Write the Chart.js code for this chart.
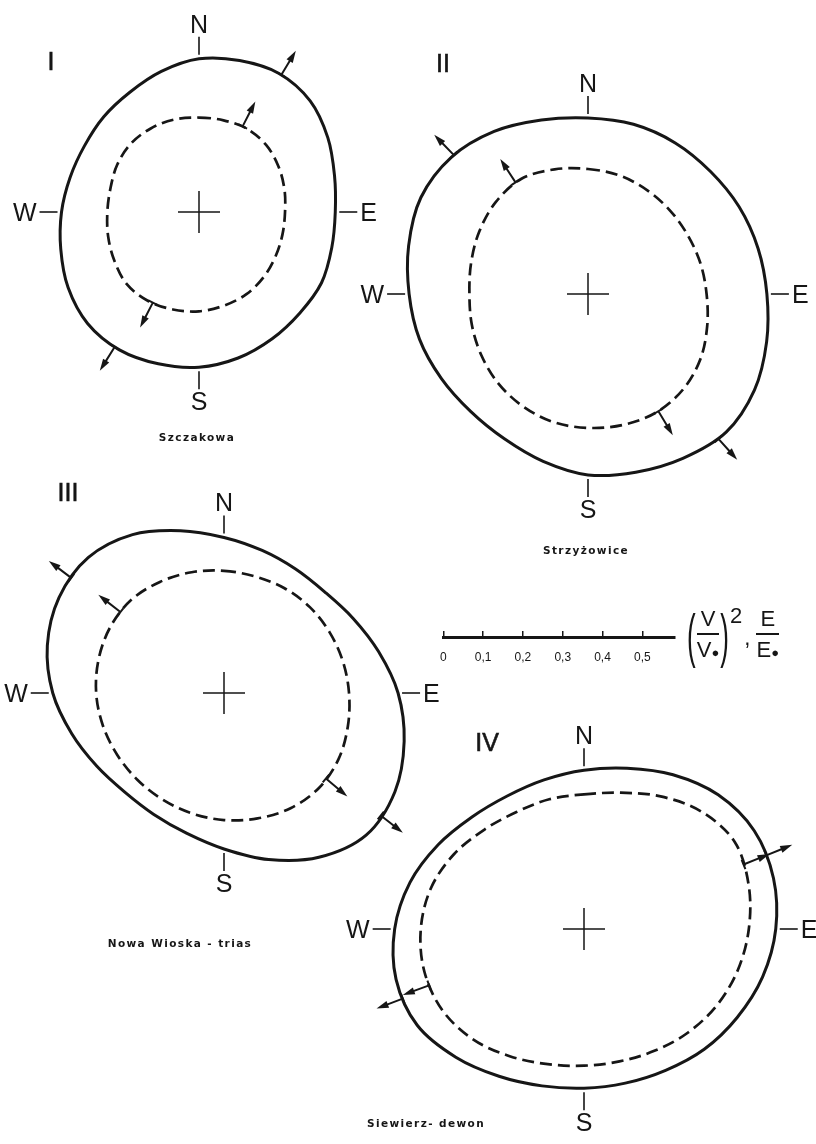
<!DOCTYPE html>
<html>
<head>
<meta charset="utf-8">
<script src="https://cdn.jsdelivr.net/npm/chart.js@4.4.1/dist/chart.umd.min.js"></script>
<style>
  html, body { margin: 0; padding: 0; background: #fff; }
  #page { position: relative; width: 816px; height: 1144px; overflow: hidden; background: #fff; color: #161616; font-family: 'Liberation Sans', sans-serif; }
  .rose { position: absolute; width: 520px; height: 520px; }
  .roman { position: absolute; font-size: 25px; -webkit-text-stroke: 0.6px #161616; transform: translate(-50%, -50%); }
  .site { position: absolute; font: bold 10.5px 'DejaVu Sans', sans-serif; letter-spacing: 1.4px; transform: translate(-50%, -50%); white-space: nowrap; }
  #scaleBar { position: absolute; left: 421px; top: 607px; width: 264px; height: 60px; }
  #formula { position: absolute; left: 687px; top: 608px; width: max-content; display: flex; align-items: center; font-size: 22px; line-height: 1; white-space: nowrap; }
  #formula > span { flex: none; }
  #formula .paren { display: inline-block; font-size: 26px; transform: scaleY(2.3); }
  #formula .frac { display: inline-flex; flex-direction: column; align-items: center; margin: 0 1px; }
  #formula .num { border-bottom: 2px solid #161616; padding: 0 4px 3px; }
  #formula .den { padding-top: 4px; }
  #formula .dot { font-size: 13px; }
  #formula .sup { align-self: flex-start; font-size: 22px; margin: -3px 2px 0 1px; }
  #formula .comma { margin: 6px 5px 0 0; }
</style>
</head>
<body>
<div id="page">
  <canvas id="roseI" class="rose" width="520" height="520" style="left:-61px; top:-48px"></canvas>
  <canvas id="roseII" class="rose" width="520" height="520" style="left:328px; top:34px"></canvas>
  <canvas id="roseIII" class="rose" width="520" height="520" style="left:-36px; top:433px"></canvas>
  <canvas id="roseIV" class="rose" width="520" height="520" style="left:324px; top:669px"></canvas>

  <div class="roman" style="left:51px; top:61px">I</div>
  <div class="roman" style="left:443px; top:63px">II</div>
  <div class="roman" style="left:68px; top:492px">III</div>
  <div class="roman" style="left:487px; top:742px">IV</div>

  <div class="site" style="left:197px; top:437px">Szczakowa</div>
  <div class="site" style="left:586px; top:550px">Strzyżowice</div>
  <div class="site" style="left:180px; top:943px">Nowa Wioska - trias</div>
  <div class="site" style="left:426px; top:1123px">Siewierz- dewon</div>

  <canvas id="scaleBar" width="264" height="60"></canvas>
  <div id="formula">
    <span class="paren">(</span>
    <span class="frac"><span class="num">V</span><span class="den">V<span class="dot">●</span></span></span>
    <span class="paren">)</span>
    <span class="sup">2</span>
    <span class="comma">,</span>
    <span class="frac"><span class="num">E</span><span class="den">E<span class="dot">●</span></span></span>
  </div>
</div>

<script>
// bearings of the radial readings, clockwise from north
const bearings = [0, 15, 30, 45, 60, 75, 90, 105, 120, 135, 150, 165, 180, 195, 210, 225, 240, 255, 270, 285, 300, 315, 330, 345];
const compassLetters = ['N', 'E', 'S', 'W'];

// I - Szczakowa
const szczakowaSolid  = [0.381, 0.390, 0.398, 0.391, 0.370, 0.349, 0.339, 0.342, 0.352, 0.355, 0.364, 0.376, 0.386, 0.391, 0.396, 0.392, 0.376, 0.356, 0.342, 0.332, 0.329, 0.335, 0.344, 0.362];
const szczakowaDashed = [0.235, 0.236, 0.239, 0.236, 0.228, 0.220, 0.214, 0.215, 0.220, 0.228, 0.236, 0.241, 0.247, 0.251, 0.255, 0.254, 0.243, 0.234, 0.228, 0.228, 0.235, 0.240, 0.240, 0.238];
const szczakowaArrows = [[31, 0.398], [212, 0.396], [27, 0.239], [207, 0.253]];

// II - Strzyzowice
const strzyzowiceSolid  = [0.438, 0.437, 0.434, 0.431, 0.434, 0.438, 0.445, 0.460, 0.478, 0.486, 0.472, 0.459, 0.450, 0.431, 0.416, 0.413, 0.421, 0.434, 0.445, 0.462, 0.480, 0.481, 0.467, 0.448];
const strzyzowiceDashed = [0.311, 0.305, 0.297, 0.291, 0.288, 0.290, 0.295, 0.307, 0.323, 0.335, 0.340, 0.337, 0.333, 0.330, 0.323, 0.315, 0.306, 0.299, 0.295, 0.301, 0.312, 0.324, 0.331, 0.321];
const strzyzowiceArrows = [[316, 0.481], [138, 0.485], [327, 0.331], [149, 0.340]];

// III - Nowa Wioska, trias
const nowaWioskaSolid  = [0.387, 0.367, 0.356, 0.355, 0.371, 0.398, 0.433, 0.464, 0.491, 0.500, 0.472, 0.429, 0.388, 0.361, 0.349, 0.349, 0.365, 0.392, 0.426, 0.455, 0.474, 0.477, 0.455, 0.418];
const nowaWioskaDashed = [0.304, 0.300, 0.301, 0.302, 0.303, 0.306, 0.311, 0.319, 0.329, 0.334, 0.331, 0.323, 0.316, 0.310, 0.306, 0.305, 0.307, 0.312, 0.318, 0.323, 0.327, 0.327, 0.319, 0.311];
const nowaWioskaArrows = [[307, 0.476], [128, 0.495], [308, 0.327], [130, 0.331]];

// IV - Siewierz, dewon
const siewierzSolid  = [0.395, 0.414, 0.443, 0.472, 0.489, 0.488, 0.477, 0.460, 0.440, 0.423, 0.406, 0.397, 0.396, 0.404, 0.423, 0.451, 0.479, 0.484, 0.471, 0.448, 0.419, 0.394, 0.382, 0.384];
const siewierzDashed = [0.335, 0.351, 0.381, 0.413, 0.433, 0.424, 0.410, 0.396, 0.381, 0.365, 0.350, 0.341, 0.340, 0.348, 0.366, 0.389, 0.406, 0.411, 0.406, 0.394, 0.373, 0.350, 0.336, 0.334];
const siewierzArrows = [[68, 0.489], [249, 0.483], [68, 0.428], [250, 0.410]];

// scale bar
const scaleTicks = [0, 0.1, 0.2, 0.3, 0.4, 0.5];
const scaleTickLabels = ['0', '0,1', '0,2', '0,3', '0,4', '0,5'];

const INK = '#161616';
const PX_PER_UNIT = 402;   // common scale of all four diagrams and the bar
const ROSE_R = 260;        // half the rose canvas

function drawArrow(ctx, x, y, ang) {
  ctx.save();
  ctx.translate(x, y);
  ctx.rotate(ang);
  ctx.lineWidth = 2;
  ctx.beginPath();
  ctx.moveTo(0, -5); ctx.lineTo(0, 5);
  ctx.moveTo(0, 0); ctx.lineTo(19, 0);
  ctx.stroke();
  ctx.beginPath();
  ctx.moveTo(28, 0); ctx.lineTo(16, -3.6); ctx.lineTo(16, 3.6);
  ctx.closePath();
  ctx.fill();
  ctx.restore();
}

// cross, compass ticks and arrows on top of the curves
const roseDecor = {
  id: 'roseDecor',
  afterDatasetsDraw(chart, args, opts) {
    const r = chart.scales.r;
    const ctx = chart.ctx;
    const step = 360 / bearings.length;
    ctx.save();
    ctx.strokeStyle = INK;
    ctx.fillStyle = INK;

    ctx.lineWidth = 1.5;
    ctx.beginPath();
    ctx.moveTo(r.xCenter - 21, r.yCenter); ctx.lineTo(r.xCenter + 21, r.yCenter);
    ctx.moveTo(r.xCenter, r.yCenter - 21); ctx.lineTo(r.xCenter, r.yCenter + 21);
    ctx.stroke();

    const solid = chart.data.datasets[0].data;
    ctx.font = '25px "Liberation Sans"';
    ctx.lineWidth = 1.6;
    compassLetters.forEach((letter, k) => {
      const idx = k * bearings.length / 4;
      const d = r.getDistanceFromCenterForValue(solid[idx]);
      const a = r.getPointPosition(idx, d + 4);
      const b = r.getPointPosition(idx, d + 22);
      ctx.beginPath();
      ctx.moveTo(a.x, a.y); ctx.lineTo(b.x, b.y);
      ctx.stroke();
      const t = r.getPointPosition(idx, d + 25);
      ctx.textBaseline = 'alphabetic';
      if (letter === 'N') { ctx.textAlign = 'center'; ctx.fillText(letter, t.x, t.y - 1); }
      if (letter === 'S') { ctx.textAlign = 'center'; ctx.fillText(letter, t.x, t.y + 18); }
      if (letter === 'E') { ctx.textAlign = 'left'; ctx.fillText(letter, t.x, t.y + 9); }
      if (letter === 'W') { ctx.textAlign = 'right'; ctx.fillText(letter, t.x, t.y + 9); }
    });

    opts.arrows.forEach(([deg, val]) => {
      const p = r.getPointPositionForValue(deg / step, val);
      drawArrow(ctx, p.x, p.y, p.angle);
    });
    ctx.restore();
  }
};

function drawRose(canvasId, solid, dashed, arrows) {
  return new Chart(document.getElementById(canvasId), {
    type: 'radar',
    data: {
      labels: bearings.map(b => b + '°'),
      datasets: [
        { data: solid, borderColor: INK, borderWidth: 3, tension: 0.34, fill: false, pointRadius: 0 },
        { data: dashed, borderColor: INK, borderWidth: 2.7, borderDash: [12, 6], tension: 0.34, fill: false, pointRadius: 0 }
      ]
    },
    options: {
      responsive: false,
      animation: false,
      events: [],
      layout: { padding: 0 },
      plugins: {
        legend: { display: false },
        tooltip: { enabled: false },
        roseDecor: { arrows: arrows }
      },
      scales: {
        r: {
          min: 0,
          max: ROSE_R / PX_PER_UNIT,
          ticks: { display: false },
          grid: { display: false },
          angleLines: { display: false },
          pointLabels: { display: false }
        }
      }
    },
    plugins: [roseDecor]
  });
}

drawRose('roseI', szczakowaSolid, szczakowaDashed, szczakowaArrows);
drawRose('roseII', strzyzowiceSolid, strzyzowiceDashed, strzyzowiceArrows);
drawRose('roseIII', nowaWioskaSolid, nowaWioskaDashed, nowaWioskaArrows);
drawRose('roseIV', siewierzSolid, siewierzDashed, siewierzArrows);

// scale bar: x axis only; a negative tick length turns the tick marks upward
const barArea = 234;
new Chart(document.getElementById('scaleBar'), {
  type: 'scatter',
  data: { datasets: [] },
  options: {
    responsive: false,
    animation: false,
    events: [],
    layout: { padding: { left: 20, right: 10, top: 0, bottom: 0 } },
    plugins: { legend: { display: false }, tooltip: { enabled: false } },
    scales: {
      x: {
        type: 'linear',
        min: 0,
        max: barArea / PX_PER_UNIT,
        afterBuildTicks: axis => { axis.ticks = scaleTicks.map(v => ({ value: v })); },
        border: { display: true, color: INK, width: 3 },
        grid: { drawOnChartArea: false, drawTicks: true, tickLength: -6, color: INK, lineWidth: 1.5 },
        ticks: {
          autoSkip: false,
          maxRotation: 0,
          padding: 19,
          color: INK,
          font: { family: 'Liberation Sans', size: 12 },
          callback: (v, i) => scaleTickLabels[i]
        }
      },
      y: { display: false, min: 0, max: 1 }
    }
  }
});
</script>
</body>
</html>
